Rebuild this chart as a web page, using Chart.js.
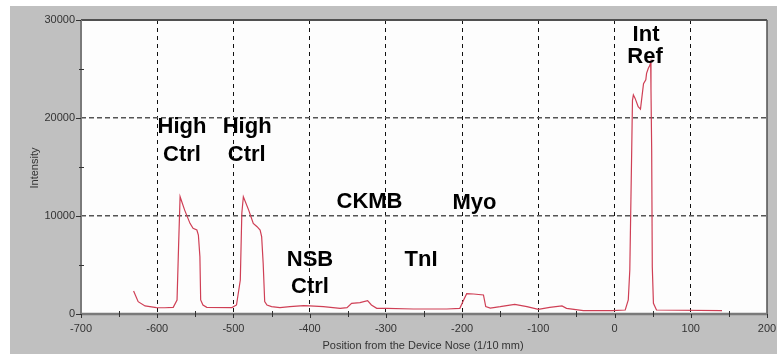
<!DOCTYPE html>
<html>
<head>
<meta charset="utf-8">
<script src="https://cdn.jsdelivr.net/npm/chart.js@4.4.1/dist/chart.umd.min.js"></script>
<style>
  html, body { margin: 0; padding: 0; background: #fff; }
  #wrap { width: 777px; height: 355px; }
</style>
</head>
<body>
<div id="wrap"><canvas id="chart" width="777" height="355"></canvas></div>
<script>
// Profil d'intensité le long de la bandelette
const positions = [
    -631, -625, -616, -601, -590, -579, -574, -572, -570, -564, -557, -553, -548, -546, -544, -543, -540, -535,
    -502, -496, -491, -489, -487, -480, -474, -469, -465, -463, -461, -459, -456, -450,
    -439, -426, -408, -400, -382, -360, -351, -345, -334, -324, -319, -312, -299, -264, -220,
    -203, -198, -194, -185, -172, -169, -163, -150, -131, -115, -100, -85, -69, -63, -41, -3,
    14, 18, 20, 22.5, 23.5, 24.7, 27, 31, 34, 38, 41, 42, 44.3, 46.5, 47.4, 47.8, 48.7, 49.5, 51, 55, 141,
];
const intensity = [
    2350, 1260, 820, 650, 640, 680, 1430, 6870, 11970, 10600, 9250, 8740, 8570, 8060, 5850, 1430, 920, 680,
    650, 920, 3470, 10280, 11970, 10600, 9250, 8910, 8570, 7890, 5170, 1260, 920, 750,
    650, 750, 850, 820, 750, 580, 650, 1090, 1160, 1360, 920, 580, 580, 510, 510,
    580, 1430, 2080, 2040, 1940, 750, 610, 750, 990, 750, 480, 680, 820, 580, 340, 340,
    410, 1430, 4490, 16700, 21800, 22350, 22000, 21150, 20900, 23500, 23900, 24550, 25070, 25400, 25700, 22860, 16730, 4830, 1090, 410, 340,
];

const xTicks = [-700, -600, -500, -400, -300, -200, -100, 0, 100, 200];
const yTicks = [0, 10000, 20000, 30000];
const xMinor = [-650, -550, -450, -350, -250, -150, -50, 50, 150];
const yMinor = [5000, 15000, 25000];

// Étiquettes des zones de test (une ligne chacune)
const zoneText = ['High', 'Ctrl', 'High', 'Ctrl', 'CKMB', 'Myo', 'NSB', 'Ctrl', 'TnI', 'Int', 'Ref'];
const zoneX    = [-567.5, -567.5, -482, -482.5, -321.5, -183.7, -399.6, -399.6, -253.9, 41.3, 40];
const zoneY    = [18520, 15610, 18520, 15610, 10770, 10750, 4900, 2140, 4900, 27860, 25600];

const FONT = '"Liberation Sans", Arial, sans-serif';

const frame = {
    id: 'frame',
    beforeDraw(chart) {
        const { ctx, chartArea: a } = chart;
        ctx.save();
        ctx.fillStyle = '#fff';
        ctx.fillRect(0, 0, chart.width, chart.height);
        ctx.fillStyle = '#c0c0c0';
        ctx.fillRect(10, 6, chart.width - 10, 348);
        ctx.fillStyle = '#fdfdfd';
        ctx.fillRect(a.left, a.top, a.right - a.left, a.bottom - a.top);
        ctx.restore();
    },
    afterDraw(chart) {
        const { ctx, chartArea: a } = chart;
        const xs = chart.scales.x, ys = chart.scales.y;
        ctx.save();
        // bordures
        ctx.strokeStyle = '#505050';
        ctx.lineWidth = 2;
        ctx.beginPath(); ctx.moveTo(a.left, a.top); ctx.lineTo(a.right, a.top); ctx.stroke();
        ctx.lineWidth = 1.5;
        ctx.beginPath(); ctx.moveTo(a.right, a.top); ctx.lineTo(a.right, a.bottom); ctx.stroke();
        ctx.strokeStyle = '#7a7a7a';
        ctx.lineWidth = 2;
        ctx.beginPath(); ctx.moveTo(a.left, a.top); ctx.lineTo(a.left, a.bottom); ctx.stroke();
        ctx.lineWidth = 2.5;
        ctx.beginPath(); ctx.moveTo(a.left, a.bottom); ctx.lineTo(a.right, a.bottom); ctx.stroke();

        // graduations
        ctx.strokeStyle = '#333';
        ctx.lineWidth = 1;
        ctx.beginPath();
        yTicks.forEach(v => { const y = Math.round(ys.getPixelForValue(v)) + 0.5; ctx.moveTo(a.left - 5, y); ctx.lineTo(a.left, y); });
        yMinor.forEach(v => { const y = Math.round(ys.getPixelForValue(v)) + 0.5; ctx.moveTo(a.left - 2, y); ctx.lineTo(a.left + 3, y); });
        xTicks.forEach(v => { const x = Math.round(xs.getPixelForValue(v)) + 0.5; ctx.moveTo(x, a.bottom); ctx.lineTo(x, a.bottom + 4); });
        xMinor.forEach(v => { const x = Math.round(xs.getPixelForValue(v)) + 0.5; ctx.moveTo(x, a.bottom - 3); ctx.lineTo(x, a.bottom + 3); });
        ctx.stroke();

        // titres des axes
        ctx.fillStyle = '#333';
        ctx.font = '11px ' + FONT;
        ctx.textAlign = 'center';
        ctx.textBaseline = 'middle';
        ctx.fillText('Position from the Device Nose (1/10 mm)', 423, 346);
        ctx.translate(35, 168);
        ctx.rotate(-Math.PI / 2);
        ctx.fillText('Intensity', 0, 0);
        ctx.restore();

        // étiquettes des zones
        ctx.save();
        ctx.fillStyle = '#000';
        ctx.font = 'bold 22px ' + FONT;
        ctx.textAlign = 'center';
        ctx.textBaseline = 'alphabetic';
        zoneText.forEach((t, i) => {
            ctx.fillText(t, xs.getPixelForValue(zoneX[i]), ys.getPixelForValue(zoneY[i]));
        });
        ctx.restore();
    },
};

new Chart(document.getElementById('chart'), {
    type: 'scatter',
    data: {
        datasets: [{
            data: positions.map((p, i) => ({ x: p, y: intensity[i] })),
            showLine: true,
            borderColor: '#cf3f55',
            borderWidth: 1.2,
            pointRadius: 0,
            tension: 0,
        }],
    },
    options: {
        responsive: false,
        animation: false,
        devicePixelRatio: 1,
        layout: { padding: { left: 0, top: 20, right: 10, bottom: 0 } },
        plugins: { legend: { display: false }, tooltip: { enabled: false } },
        scales: {
            x: {
                type: 'linear',
                min: -700,
                max: 200,
                afterBuildTicks: s => { s.ticks = xTicks.map(v => ({ value: v })); },
                afterFit: s => { s.height = 41; s.paddingLeft = 0; s.paddingRight = 0; },
                ticks: {
                    color: '#333', font: { family: FONT, size: 11 }, padding: 8, maxRotation: 0,
                    callback: v => String(v),
                },
                grid: {
                    drawTicks: false,
                    color: c => (c.tick && (c.tick.value === -700 || c.tick.value === 200)) ? 'rgba(0,0,0,0)' : '#111',
                    lineWidth: 1,
                },
                border: { display: false, dash: [4, 4] },
            },
            y: {
                min: 0,
                max: 30000,
                afterBuildTicks: s => { s.ticks = yTicks.map(v => ({ value: v })); },
                afterFit: s => { s.width = 81; s.paddingTop = 0; s.paddingBottom = 0; },
                ticks: {
                    color: '#333', font: { family: FONT, size: 11 }, padding: 6,
                    callback: v => String(v),
                },
                grid: {
                    drawTicks: false,
                    color: c => (c.tick && (c.tick.value === 0 || c.tick.value === 30000)) ? 'rgba(0,0,0,0)' : '#555',
                    lineWidth: 1.5,
                },
                border: { display: false, dash: [5, 3] },
            },
        },
    },
    plugins: [frame],
});
</script>
</body>
</html>
